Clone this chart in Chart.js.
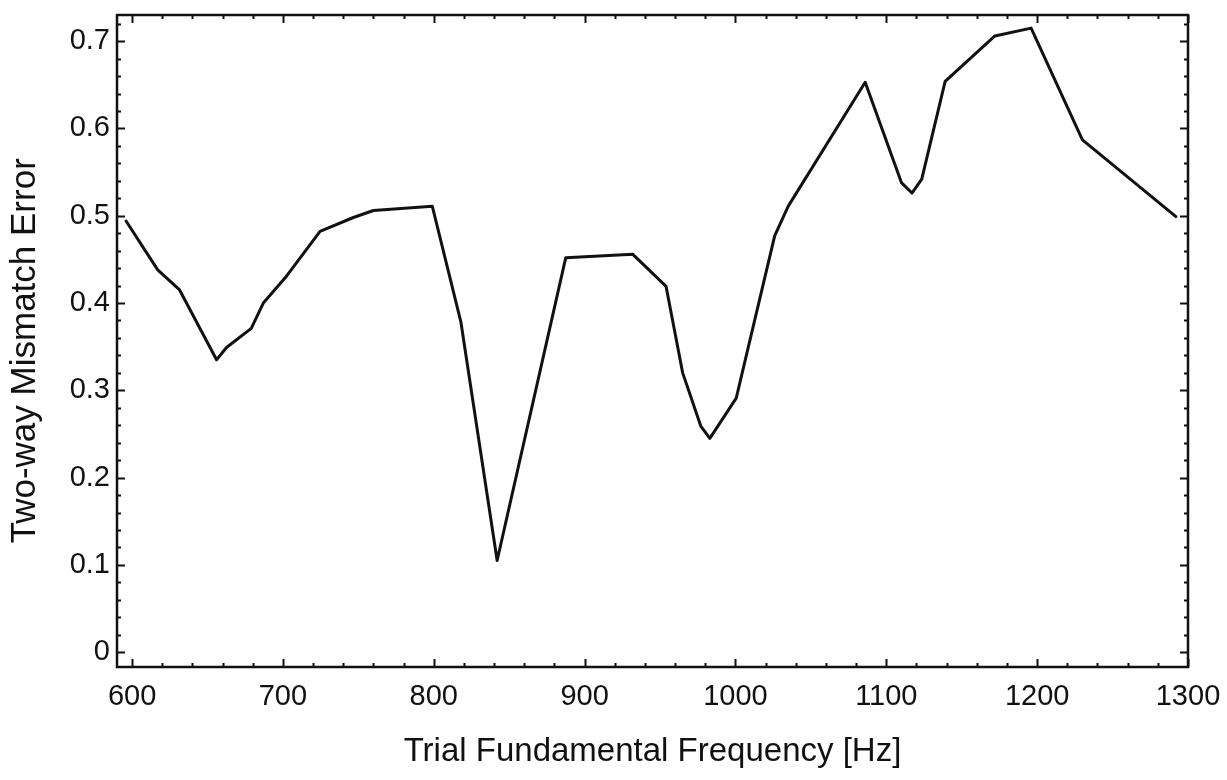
<!DOCTYPE html>
<html>
<head>
<meta charset="utf-8">
<script src="https://cdn.jsdelivr.net/npm/chart.js@4/dist/chart.umd.min.js"></script>
<style>
  html, body { margin: 0; padding: 0; background: #ffffff; }
  #c { display: block; }
</style>
</head>
<body>
<canvas id="c" width="1227" height="780"></canvas>
<script>
// ---- data ----
const frequencies = [596, 617, 631.5, 656, 662.6, 679, 687, 702.5, 724.6, 746.7, 760, 799, 818, 842, 887.5, 931.8, 954, 965, 977, 983, 1000.5, 1026, 1035, 1086, 1110, 1117, 1123.5, 1139, 1172, 1196, 1230, 1292];
const mismatchError = [0.494, 0.438, 0.415, 0.335, 0.349, 0.371, 0.400, 0.431, 0.482, 0.498, 0.506, 0.511, 0.378, 0.105, 0.452, 0.456, 0.419, 0.320, 0.259, 0.245, 0.291, 0.477, 0.511, 0.653, 0.538, 0.526, 0.542, 0.654, 0.706, 0.715, 0.587, 0.499];
const xTickValues = [600, 700, 800, 900, 1000, 1100, 1200, 1300];
const yTickValues = [0, 0.1, 0.2, 0.3, 0.4, 0.5, 0.6, 0.7];
const xTitle = 'Trial Fundamental Frequency [Hz]';
const yTitle = 'Two-way Mismatch Error';

const FONT = '"Liberation Sans", Arial, Helvetica, sans-serif';
const INK = '#111111';

const points = frequencies.map((f, i) => ({ x: f, y: mismatchError[i] }));

// frame + inward ticks on all four sides, positioned through the chart's scales
const framePlugin = {
  id: 'frame',
  afterDatasetsDraw(chart) {
    const { ctx, chartArea: a, scales } = chart;
    const xs = scales.x, ys = scales.y;
    ctx.save();
    ctx.strokeStyle = INK;
    ctx.lineWidth = 2;
    ctx.lineCap = 'butt';
    const major = 8, minor = 4;
    ctx.beginPath();
    for (let v = 600; v <= 1300 + 1e-9; v += 20) {
      const px = Math.round(xs.getPixelForValue(v)) + 0.5;
      const len = (Math.abs(v % 100) < 1e-6) ? major : minor;
      ctx.moveTo(px, a.bottom); ctx.lineTo(px, a.bottom - len);
      ctx.moveTo(px, a.top); ctx.lineTo(px, a.top + len);
    }
    for (let k = 0; k <= 36; k++) {
      const v = k * 0.02;
      if (v > ys.max) break;
      const py = Math.round(ys.getPixelForValue(v)) + 0.5;
      const len = (k % 5 === 0) ? major : minor;
      ctx.moveTo(a.left, py); ctx.lineTo(a.left + len, py);
      ctx.moveTo(a.right, py); ctx.lineTo(a.right - len, py);
    }
    ctx.stroke();
    ctx.lineWidth = 2.5;
    ctx.strokeRect(a.left, a.top, a.right - a.left, a.bottom - a.top);
    ctx.restore();
  }
};

new Chart(document.getElementById('c'), {
  type: 'line',
  data: {
    datasets: [{
      data: points,
      borderColor: INK,
      borderWidth: 3,
      pointRadius: 0,
      tension: 0,
      fill: false,
      borderJoinStyle: 'round',
      borderCapStyle: 'round'
    }]
  },
  options: {
    responsive: false,
    animation: false,
    devicePixelRatio: 1,
    layout: { padding: { top: 15, right: 39, left: 0, bottom: 0 } },
    plugins: { legend: { display: false }, tooltip: { enabled: false } },
    scales: {
      x: {
        type: 'linear',
        position: 'bottom',
        min: 590,
        max: 1300,
        grid: { display: false, drawTicks: false },
        border: { display: false },
        afterBuildTicks: (s) => { s.ticks = xTickValues.map(v => ({ value: v })); },
        afterFit: (s) => { s.height = 113; s.paddingLeft = 0; s.paddingRight = 0; },
        ticks: {
          color: INK,
          font: { family: FONT, size: 29 },
          padding: 13,
          maxRotation: 0,
          autoSkip: false,
          callback: (v) => String(v)
        },
        title: {
          display: true,
          text: xTitle,
          color: INK,
          font: { family: FONT, size: 33 },
          padding: { top: 0, bottom: 8 }
        }
      },
      y: {
        type: 'linear',
        min: -0.017,
        max: 0.73,
        grid: { display: false, drawTicks: false },
        border: { display: false },
        afterBuildTicks: (s) => { s.ticks = yTickValues.map(v => ({ value: v })); },
        afterFit: (s) => { s.width = 117; s.paddingTop = 0; s.paddingBottom = 0; },
        ticks: {
          color: INK,
          font: { family: FONT, size: 29 },
          padding: 7,
          autoSkip: false,
          callback: (v) => (v === 0 ? '0' : Number(v).toFixed(1))
        },
        title: {
          display: true,
          text: yTitle + '  ',
          color: INK,
          font: { family: FONT, size: 35 },
          padding: { top: 4, bottom: 0 }
        }
      }
    }
  },
  plugins: [framePlugin]
});
</script>
</body>
</html>
